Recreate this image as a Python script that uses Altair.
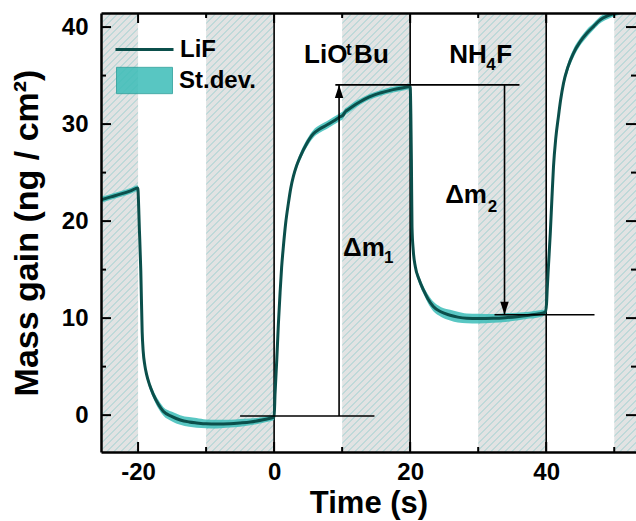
import altair as alt
import pandas as pd

# ---------------- data ----------------
time_s = [-25.45, -24.0, -22.5, -21.0, -20.05, -19.8, -19.6, -19.4, -19.25, -19.0, -18.75, -18.3,
          -17.8, -17.0, -16.3, -15.0, -13.8, -12.5, -11.4, -10.0, -8.4, -6.5, -5.0, -3.5, -1.6,
          -0.6, 0.0,
          0.14, 0.39, 0.62, 0.87, 1.1, 1.36, 1.7, 2.1, 2.45, 2.83, 3.3, 3.81, 4.8, 5.77, 6.7,
          7.74, 8.8, 9.7, 10.1, 10.5, 10.9, 11.7, 12.64, 14.0, 15.6, 17.5, 19.0, 20.0,
          20.1, 20.18, 20.27, 20.45, 20.76, 21.3, 21.95, 22.6, 23.4, 24.5, 25.87, 27.0, 28.3,
          30.0, 32.2, 34.0, 35.7, 37.5, 39.0, 39.85,
          40.05, 40.15, 40.3, 40.6, 40.85, 41.07, 41.4, 41.8, 42.1, 42.54, 43.2, 44.0, 45.0,
          45.97, 47.0, 47.94, 49.0, 50.14, 50.8]
mass = [22.2, 22.5, 22.8, 23.15, 23.4, 19.0, 14.9, 8.6, 6.6, 5.1, 4.2, 3.1,
        2.2, 1.1, 0.4, -0.15, -0.5, -0.7, -0.8, -0.9, -0.92, -0.88, -0.8, -0.7, -0.48,
        -0.32, -0.2,
        2.25, 5.7, 9.3, 12.55, 15.2, 17.37, 19.8, 21.85, 23.4, 24.6, 25.7, 26.6, 28.0, 29.0, 29.5,
        29.9, 30.35, 30.75, 30.9, 31.3, 31.5, 31.9, 32.3, 32.8, 33.2, 33.55, 33.75, 33.88,
        31.0, 26.3, 19.4, 17.0, 15.3, 14.0, 12.9, 12.0, 11.2, 10.65, 10.3, 10.1, 9.98,
        9.95, 9.98, 10.05, 10.15, 10.3, 10.45, 10.62,
        11.5, 13.0, 15.0, 18.75, 22.5, 25.6, 28.5, 30.8, 32.4, 34.2, 35.9, 37.3, 38.5,
        39.36, 40.1, 40.74, 41.15, 41.43, 41.6]
stdev = [0.3, 0.3, 0.3, 0.3, 0.3, 0.3, 0.3, 0.3, 0.35, 0.35, 0.35, 0.4,
         0.4, 0.45, 0.45, 0.5, 0.5, 0.5, 0.5, 0.45, 0.45, 0.4, 0.4, 0.35, 0.3,
         0.3, 0.3,
         0.3, 0.3, 0.3, 0.3, 0.3, 0.3, 0.3, 0.35, 0.35, 0.35, 0.35, 0.4, 0.4, 0.4, 0.4,
         0.4, 0.4, 0.4, 0.4, 0.35, 0.35, 0.35, 0.3, 0.3, 0.3, 0.3, 0.3, 0.3,
         0.3, 0.3, 0.3, 0.3, 0.35, 0.4, 0.4, 0.45, 0.5, 0.5, 0.55, 0.55, 0.5,
         0.5, 0.45, 0.45, 0.4, 0.35, 0.35, 0.3,
         0.3, 0.3, 0.3, 0.3, 0.3, 0.3, 0.35, 0.4, 0.4, 0.45, 0.45, 0.45, 0.4,
         0.4, 0.35, 0.35, 0.35, 0.3, 0.3]

shade_start = [-25.45, -10, 10, 30, 50]
shade_end = [-20, 0, 20, 40, 53.2]

pulse_times = [0, 20, 40]

seg_x1 = [-5.0, 9.55, 9.0, 33.87, 32.4]
seg_x2 = [14.75, 9.55, 36.07, 33.87, 47.1]
seg_y1 = [-0.09, -0.09, 34.04, 34.04, 10.35]
seg_y2 = [-0.09, 34.04, 34.04, 10.35, 10.35]

arrow_x = [9.55, 33.87]
arrow_y = [34.04, 10.35]
arrow_dir = ["up", "down"]

big_text = ["LiO", "Bu", "NH", "F", "Δm", "Δm"]
big_x = [4.4, 11.76, 25.73, 32.64, 10.14, 25.14]
big_y = [36.3, 36.3, 36.3, 36.3, 16.41, 21.87]
small_text = ["t", "4", "1", "2"]
small_x = [10.58, 31.17, 16.15, 31.4]
small_y = [37.13, 35.58, 15.68, 20.94]

x_major = [-20, 0, 20, 40]
x_minor = [-10, 10, 30, 50]
y_major = [0, 10, 20, 30, 40]
y_minor = [5, 15, 25, 35]

# ---------------- layout ----------------
X_DOM = [-25.45, 53.2]
Y_DOM = [-3.8, 41.45]
W, H = 535, 439
FONT = "Liberation Sans"
LINE_COL = "#0b4f4b"
BAND_COL = "#3cbdb8"
MAJ, MIN = 10, 5

df = pd.DataFrame({"t": time_s, "m": mass, "sd": stdev})
df["lo"] = df["m"] - df["sd"]
df["hi"] = df["m"] + df["sd"]
df["series"] = "LiF"
df["band"] = "St.dev."

xs = alt.Scale(domain=X_DOM, nice=False, zero=False)
ys = alt.Scale(domain=Y_DOM, nice=False, zero=False)


def hatch(w, h, base="#e2e3e3", line="#bfd9d9", pitch=7.0, lw=1.5):
    L = w + h
    stops = [alt.GradientStop(color=base, offset=0)]
    c = pitch / 2
    while c < L:
        a = max(0.0, (c - lw / 2) / L)
        b = min(1.0, (c + lw / 2) / L)
        stops += [alt.GradientStop(color=base, offset=a),
                  alt.GradientStop(color=line, offset=a),
                  alt.GradientStop(color=line, offset=b),
                  alt.GradientStop(color=base, offset=b)]
        c += pitch
    stops.append(alt.GradientStop(color=base, offset=1))
    den = w * w + h * h
    return alt.LinearGradient(gradient="linear", stops=stops, x1=0, y1=0,
                              x2=w * (w + h) / den, y2=h * (w + h) / den)


pxu = W / (X_DOM[1] - X_DOM[0])
shade_layers = []
for s, e in zip(shade_start, shade_end):
    d = pd.DataFrame({"s": [s], "e": [e]})
    shade_layers.append(
        alt.Chart(d).mark_rect(fill=hatch((e - s) * pxu, H), clip=True).encode(
            x=alt.X("s:Q", scale=xs, axis=None), x2="e:Q"))

rules = alt.Chart(pd.DataFrame({"t": pulse_times})).mark_rule(
    color="black", strokeWidth=1.6).encode(x=alt.X("t:Q", scale=xs, axis=None))

band = alt.Chart(df).mark_area(interpolate="monotone", opacity=0.85, clip=True).encode(
    x=alt.X("t:Q", scale=xs, axis=None),
    y=alt.Y("lo:Q", scale=ys, axis=None), y2="hi:Q",
    fill=alt.Fill("band:N", scale=alt.Scale(domain=["St.dev."], range=[BAND_COL]),
                  legend=alt.Legend(title=None, orient="none", legendX=15, legendY=39,
                                    symbolType="M-1,-0.47H1V0.47H-1Z", symbolSize=3136,
                                    symbolStrokeColor="#2a9f9b", symbolStrokeWidth=1,
                                    symbolOpacity=0.85, labelFont=FONT, labelFontSize=24,
                                    labelFontWeight="bold", labelColor="black",
                                    labelOffset=6, padding=0)))

lab = dict(labelFont=FONT, labelFontSize=24, labelFontWeight="bold", labelColor="black",
           titleFont=FONT, titleFontWeight="bold", titleColor="black",
           labelExpr="'' + datum.value", ticks=False, tickSize=0, grid=False,
           domain=True, domainColor="black", domainWidth=2.5, zindex=2)

line = alt.Chart(df).mark_line(interpolate="monotone", strokeWidth=3, clip=True).encode(
    x=alt.X("t:Q", scale=xs,
            axis=alt.Axis(orient="bottom", values=x_major, title="Time (s)",
                          titleFontSize=31, labelPadding=8, titlePadding=4.5, **lab)),
    y=alt.Y("m:Q", scale=ys,
            axis=alt.Axis(orient="left", values=y_major, title="Mass gain (ng / cm²)",
                          titleFontSize=34, labelPadding=13, titlePadding=17, **lab)),
    stroke=alt.Stroke("series:N", scale=alt.Scale(domain=["LiF"], range=[LINE_COL]),
                      legend=alt.Legend(title=None, orient="none", legendX=13, legendY=6,
                                        symbolType="stroke", symbolSize=3364,
                                        symbolStrokeWidth=3, labelFont=FONT,
                                        labelFontSize=24, labelFontWeight="bold",
                                        labelColor="black", labelOffset=5, padding=0)))

# top frame line
top_frame = alt.Chart(df).mark_point(opacity=0).encode(
    x=alt.X("t:Q", scale=xs,
            axis=alt.Axis(orient="top", labels=False, ticks=False, grid=False, title=None,
                          domain=True, domainColor="black", domainWidth=2.5, zindex=2)),
    y=alt.Y("m:Q", scale=ys, axis=None))


# inward tick marks (positions from the axis scales)
def xticks(vals, length, top):
    y0, y1 = (0, length) if top else (H - length, H)
    return alt.Chart(pd.DataFrame({"v": vals})).mark_rule(color="black", strokeWidth=2).encode(
        x=alt.X("v:Q", scale=xs, axis=None), y=alt.value(y0), y2=alt.value(y1))


def yticks(vals, length, right):
    x0, x1 = (W - length, W) if right else (0, length)
    return alt.Chart(pd.DataFrame({"v": vals})).mark_rule(color="black", strokeWidth=2).encode(
        y=alt.Y("v:Q", scale=ys, axis=None), x=alt.value(x0), x2=alt.value(x1))


tick_layers = [xticks(x_major, MAJ, False), xticks(x_minor, MIN, False),
               xticks(x_major, MAJ, True), xticks(x_minor, MIN, True),
               yticks(y_major, MAJ, False), yticks(y_minor, MIN, False),
               yticks(y_major, MAJ, True), yticks(y_minor, MIN, True)]

segs = alt.Chart(pd.DataFrame({"x1": seg_x1, "x2": seg_x2, "y1": seg_y1, "y2": seg_y2})).mark_rule(
    color="black", strokeWidth=1.6).encode(
    x=alt.X("x1:Q", scale=xs, axis=None), x2="x2:Q",
    y=alt.Y("y1:Q", scale=ys, axis=None), y2="y2:Q")

adf = pd.DataFrame({"x": arrow_x, "y": arrow_y, "d": arrow_dir})
arrow_up = alt.Chart(adf[adf.d == "up"]).mark_point(
    shape="M0,0L-0.65,2L0.65,2Z", size=169, filled=True, color="black", opacity=1).encode(
    x=alt.X("x:Q", scale=xs, axis=None), y=alt.Y("y:Q", scale=ys, axis=None))
arrow_dn = alt.Chart(adf[adf.d == "down"]).mark_point(
    shape="M0,0L-0.65,-2L0.65,-2Z", size=169, filled=True, color="black", opacity=1).encode(
    x=alt.X("x:Q", scale=xs, axis=None), y=alt.Y("y:Q", scale=ys, axis=None))

btxt = alt.Chart(pd.DataFrame({"x": big_x, "y": big_y, "s": big_text})).mark_text(
    font=FONT, fontSize=26, fontWeight="bold", color="black", align="left",
    baseline="alphabetic").encode(
    x=alt.X("x:Q", scale=xs, axis=None), y=alt.Y("y:Q", scale=ys, axis=None), text="s:N")
stxt = alt.Chart(pd.DataFrame({"x": small_x, "y": small_y, "s": small_text})).mark_text(
    font=FONT, fontSize=17, fontWeight="bold", color="black", align="left",
    baseline="alphabetic").encode(
    x=alt.X("x:Q", scale=xs, axis=None), y=alt.Y("y:Q", scale=ys, axis=None), text="s:N")

chart = alt.layer(*shade_layers, rules, band, line, segs, arrow_up, arrow_dn, btxt, stxt,
                  *tick_layers, top_frame).resolve_axis(
    x="independent", y="independent").properties(
    width=W, height=H, background="white",
    autosize=alt.AutoSizeParams(type="none"),
    padding={"left": 101, "top": 13, "right": 0, "bottom": 69}).configure_view(stroke=None)

chart.save("out.html", embed_options={"renderer": "svg", "actions": False})
